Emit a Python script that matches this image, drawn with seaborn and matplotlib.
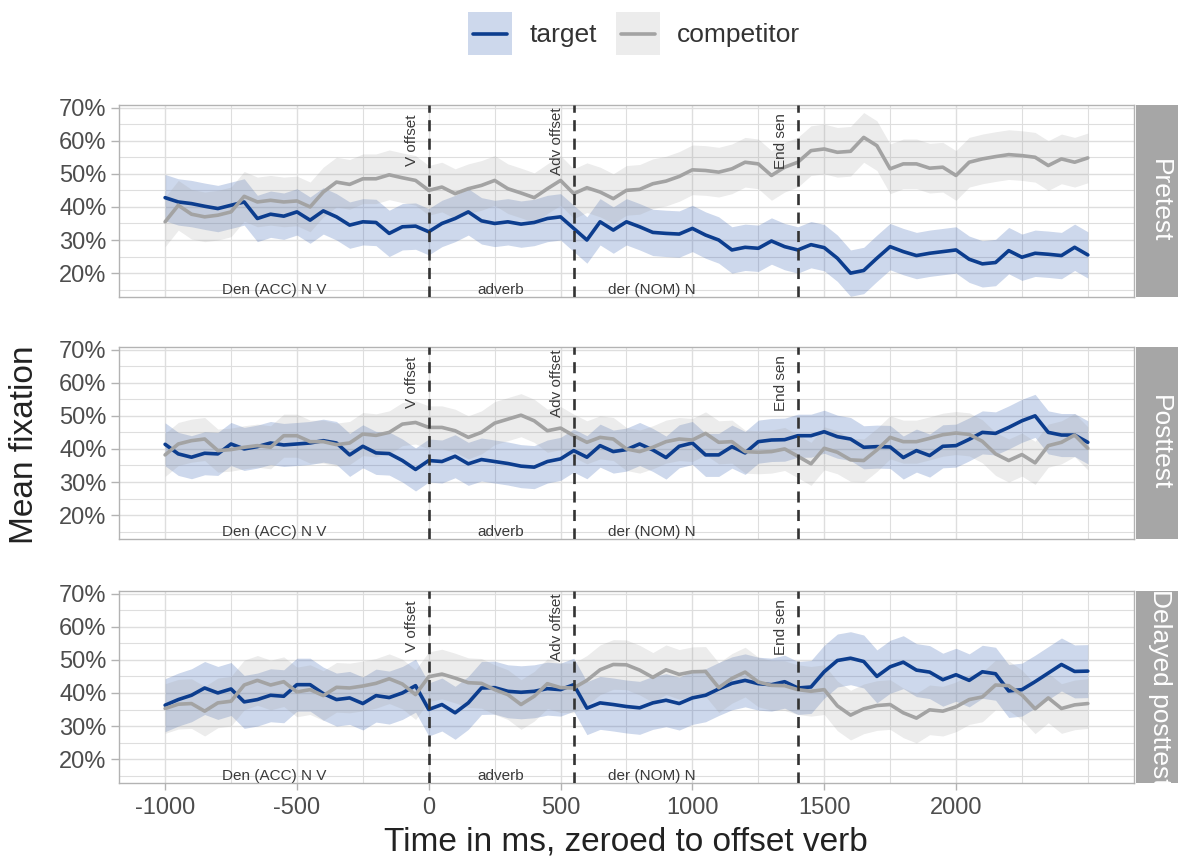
import numpy as np
import pandas as pd
import matplotlib
matplotlib.use("Agg")
import matplotlib.pyplot as plt
import seaborn as sns
from matplotlib.ticker import PercentFormatter
from matplotlib.patches import Rectangle
from matplotlib.lines import Line2D

# ---------------- data ----------------
time_ms = np.arange(-1000, 2501, 50)
panels = ["Pretest", "Posttest", "Delayed posttest"]
series = ["target", "competitor"]

pre_target = [
    42.8, 41.5, 41.0, 40.2, 39.5, 40.5, 41.5, 36.5, 37.8, 37.2,
    38.5, 36.0, 38.8, 37.0, 34.5, 35.5, 35.3, 32.0, 34.0, 34.2,
    32.5, 35.0, 36.5, 38.5, 35.8, 35.0, 35.5, 34.8, 35.3, 36.5,
    37.0, 33.5, 30.0, 35.5, 33.0, 35.5, 34.0, 32.3, 32.0, 31.8,
    33.5, 31.5, 30.0, 27.0, 27.8, 27.5, 29.7, 28.0, 27.0, 28.6,
    27.7, 24.5, 20.0, 20.8, 24.5, 28.0, 26.5, 25.3, 26.0, 26.5,
    27.0, 24.2, 22.8, 23.2, 26.8, 24.8, 26.0, 25.7, 25.3, 27.8,
    25.5]
pre_competitor = [
    35.5, 40.5, 37.8, 37.0, 37.5, 38.5, 43.2, 41.5, 42.0, 41.5,
    41.8, 40.0, 44.5, 47.5, 46.8, 48.5, 48.5, 49.7, 48.8, 48.0,
    45.0, 46.0, 44.0, 45.5, 46.5, 48.0, 45.5, 44.2, 42.8, 45.5,
    48.0, 44.0, 45.8, 44.5, 42.5, 45.0, 45.3, 47.0, 47.8, 49.2,
    51.2, 51.0, 50.5, 51.5, 53.5, 53.0, 49.5, 52.0, 53.5, 57.0,
    57.5, 56.5, 56.8, 61.0, 58.5, 51.5, 53.0, 53.0, 51.7, 52.0,
    49.5, 53.5, 54.5, 55.2, 55.8, 55.5, 55.0, 52.5, 54.5, 53.5,
    54.8]
post_target = [
    41.4, 38.5, 37.5, 38.7, 38.5, 41.5, 40.0, 40.7, 41.8, 41.2,
    41.5, 41.8, 42.5, 41.8, 38.2, 40.8, 38.8, 38.6, 36.5, 33.8,
    36.5, 36.2, 37.8, 35.5, 36.8, 36.2, 35.6, 34.8, 34.5, 36.2,
    37.0, 39.5, 37.5, 41.0, 39.2, 39.8, 41.5, 39.7, 37.4, 40.8,
    41.8, 38.2, 38.2, 40.7, 38.8, 42.2, 42.7, 42.8, 44.0, 44.0,
    45.2, 43.7, 43.0, 40.5, 40.7, 40.6, 37.4, 39.5, 38.0, 40.8,
    41.0, 42.9, 45.0, 44.7, 46.5, 48.5, 50.0, 45.0, 44.2, 44.2,
    42.0]
post_competitor = [
    38.2, 41.5, 42.5, 43.0, 39.5, 39.8, 40.5, 41.0, 40.5, 44.0,
    44.0, 42.2, 42.2, 41.3, 41.8, 44.5, 44.1, 45.0, 47.5, 48.0,
    46.5, 46.5, 45.5, 43.5, 45.0, 47.8, 49.0, 50.2, 48.5, 45.5,
    46.3, 44.0, 42.0, 43.5, 43.0, 40.0, 39.2, 40.5, 42.2, 43.0,
    42.7, 44.7, 42.0, 42.2, 39.2, 39.0, 39.2, 40.0, 37.8, 35.5,
    40.2, 39.0, 36.7, 36.5, 39.7, 43.5, 42.2, 42.2, 43.2, 44.3,
    44.8, 44.4, 42.3, 38.5, 36.5, 38.3, 35.8, 41.0, 42.0, 44.2,
    40.2]
delayed_target = [
    36.3, 38.0, 39.3, 41.5, 40.0, 41.2, 37.3, 38.0, 39.3, 39.0,
    42.5, 42.5, 39.8, 38.0, 38.5, 36.8, 39.2, 38.6, 40.0, 42.2,
    35.0, 36.5, 34.0, 37.0, 41.5, 41.6, 40.5, 40.2, 40.5, 41.3,
    41.0, 42.5, 35.4, 37.0, 36.5, 35.9, 35.5, 37.0, 37.8, 36.8,
    38.5, 39.3, 41.2, 42.9, 43.8, 42.8, 42.5, 43.4, 41.5, 41.8,
    46.4, 49.8, 50.5, 49.5, 45.0, 47.9, 49.3, 46.9, 46.3, 44.0,
    45.5, 43.8, 46.4, 45.8, 40.6, 41.0, 43.4, 46.0, 48.6, 46.5,
    46.6]
delayed_competitor = [
    35.3, 36.6, 36.8, 34.5, 37.0, 37.5, 42.4, 43.8, 42.4, 43.4,
    40.3, 41.0, 39.2, 41.7, 41.5, 42.1, 42.9, 44.3, 42.7, 39.5,
    44.9, 45.7, 44.5, 43.1, 42.9, 41.0, 39.5, 36.5, 39.0, 42.8,
    41.6, 41.5, 43.8, 47.0, 48.6, 48.5, 46.9, 44.7, 47.0, 45.6,
    46.4, 46.5, 41.6, 44.4, 46.3, 43.3, 42.3, 42.2, 41.0, 40.5,
    41.0, 36.1, 33.3, 35.2, 36.2, 36.5, 34.0, 32.4, 34.9, 34.5,
    35.8, 38.0, 38.8, 42.4, 42.2, 39.4, 35.2, 38.5, 35.3, 36.4,
    36.8]

# approximate half-width of the confidence band (percentage points)
ci_pre = [7.0, 7.5]
ci_post = [6.5, 6.5]
ci_delayed = [8.0, 7.5]

event_times = [0, 550, 1400]
event_labels = ["V offset", "Adv offset", "End sen"]
region_times = [-586, 273, 848]
region_labels = ["Den (ACC) N V", "adverb", "der (NOM) N"]
x_ticks = [-1000, -500, 0, 500, 1000, 1500, 2000]
y_ticks = [20, 30, 40, 50, 60, 70]

# ---------------- tidy frame ----------------
values = {
    ("Pretest", "target"): pre_target, ("Pretest", "competitor"): pre_competitor,
    ("Posttest", "target"): post_target, ("Posttest", "competitor"): post_competitor,
    ("Delayed posttest", "target"): delayed_target,
    ("Delayed posttest", "competitor"): delayed_competitor,
}
halfw = {"Pretest": ci_pre, "Posttest": ci_post, "Delayed posttest": ci_delayed}
rows = []
for (p, s), v in values.items():
    hw = halfw[p][series.index(s)]
    for t, m in zip(time_ms, v):
        rows.append(dict(panel=p, series=s, time=t, mean=m, lo=m - hw, hi=m + hw))
df = pd.DataFrame(rows)

# ---------------- style ----------------
sns.set_style("white")
plt.rcParams["font.family"] = ["Liberation Sans", "DejaVu Sans"]

line_colors = {"target": "#0c3d8e", "competitor": "#a3a3a3"}
fill_colors = {"target": "#2f5cb0", "competitor": "#a0a0a0"}
fill_alpha = {"target": 0.24, "competitor": 0.2}

fig = plt.figure(figsize=(11.78, 8.61), dpi=100)

L, W, H = 0.1010, 0.8616, 0.2230
bottoms = [0.6551, 0.3740, 0.0906]
grid_c = "#dedede"
minor_x = [v for v in range(-750, 2501, 250) if v not in x_ticks]

for i, panel in enumerate(panels):
    ax = fig.add_axes([L, bottoms[i], W, H])
    sub = df[df["panel"] == panel]
    for s in series:
        d = sub[sub["series"] == s]
        ax.fill_between(d["time"], d["lo"], d["hi"], color=fill_colors[s],
                        alpha=fill_alpha[s], linewidth=0, zorder=1)
    sns.lineplot(data=sub, x="time", y="mean", hue="series", hue_order=series,
                 palette=line_colors, estimator=None, errorbar=None,
                 legend=False, linewidth=2.6, ax=ax, zorder=2)
    for t, lab in zip(event_times, event_labels):
        ax.axvline(t, color="#333333", lw=1.9, ls=(0, (4.2, 2.8)), zorder=3)
        ax.text(t - 65, 60, lab, rotation=90, ha="center", va="center",
                fontsize=11, color="#3a3a3a", zorder=4)
    for t, lab in zip(region_times, region_labels):
        ax.text(t, 15, lab, ha="center", va="center", fontsize=11,
                color="#3a3a3a", zorder=4)

    ax.set_xlim(-1175, 2675)
    ax.set_ylim(12.8, 70.8)
    ax.set_xticks(x_ticks)
    ax.set_xticks(minor_x, minor=True)
    ax.set_yticks(y_ticks)
    ax.set_yticks([15, 25, 35, 45, 55, 65], minor=True)
    ax.yaxis.set_major_formatter(PercentFormatter(xmax=100, decimals=0))
    ax.set_axisbelow(True)
    ax.grid(which="major", color=grid_c, lw=1.0)
    ax.grid(which="minor", color=grid_c, lw=0.8)
    ax.tick_params(which="minor", length=0)
    ax.tick_params(axis="y", which="major", length=6, width=1, color="#b3b3b3",
                   labelsize=17, labelcolor="#4d4d4d", pad=3, left=True)
    if i < 2:
        ax.tick_params(axis="x", which="major", length=0, labelbottom=False)
    else:
        ax.tick_params(axis="x", which="major", length=5, width=1, color="#b3b3b3",
                       labelsize=17, labelcolor="#4d4d4d", pad=5, bottom=True)
        ax.set_xticklabels([str(v) for v in x_ticks])
    ax.set_xlabel("")
    ax.set_ylabel("")
    for sp in ax.spines.values():
        sp.set_visible(True)
        sp.set_color("#b3b3b3")
        sp.set_linewidth(1.0)

    # facet strip
    sax = fig.add_axes([0.9643, bottoms[i], 0.0400, H])
    sax.set_facecolor("#a6a6a6")
    sax.set_xticks([])
    sax.set_yticks([])
    for sp in sax.spines.values():
        sp.set_visible(False)
    sax.text(0.5, 0.5, panel, rotation=-90, ha="center", va="center",
             fontsize=19, color="white", transform=sax.transAxes, clip_on=True)

fig.text(0.021, 0.484, "Mean fixation", rotation=90, ha="center", va="center",
         fontsize=24, color="#222222")
fig.text(0.531, 0.022, "Time in ms, zeroed to offset verb", ha="center",
         va="center", fontsize=24, color="#222222")

# legend (top)
for x0, s, tx in [(0.3973, "target", 0.4499), (0.5229, "competitor", 0.5747)]:
    fig.add_artist(Rectangle((x0, 0.9361), 0.03735, 0.0499, transform=fig.transFigure,
                             facecolor=fill_colors[s], alpha=fill_alpha[s], lw=0))
    fig.add_artist(Line2D([x0 + 0.0045, x0 + 0.0330], [0.9607, 0.9607],
                          transform=fig.transFigure, color=line_colors[s], lw=2.6))
    fig.text(tx, 0.9593, s, ha="left", va="center", fontsize=19, color="#333333")

fig.savefig("out.png", dpi=100)
